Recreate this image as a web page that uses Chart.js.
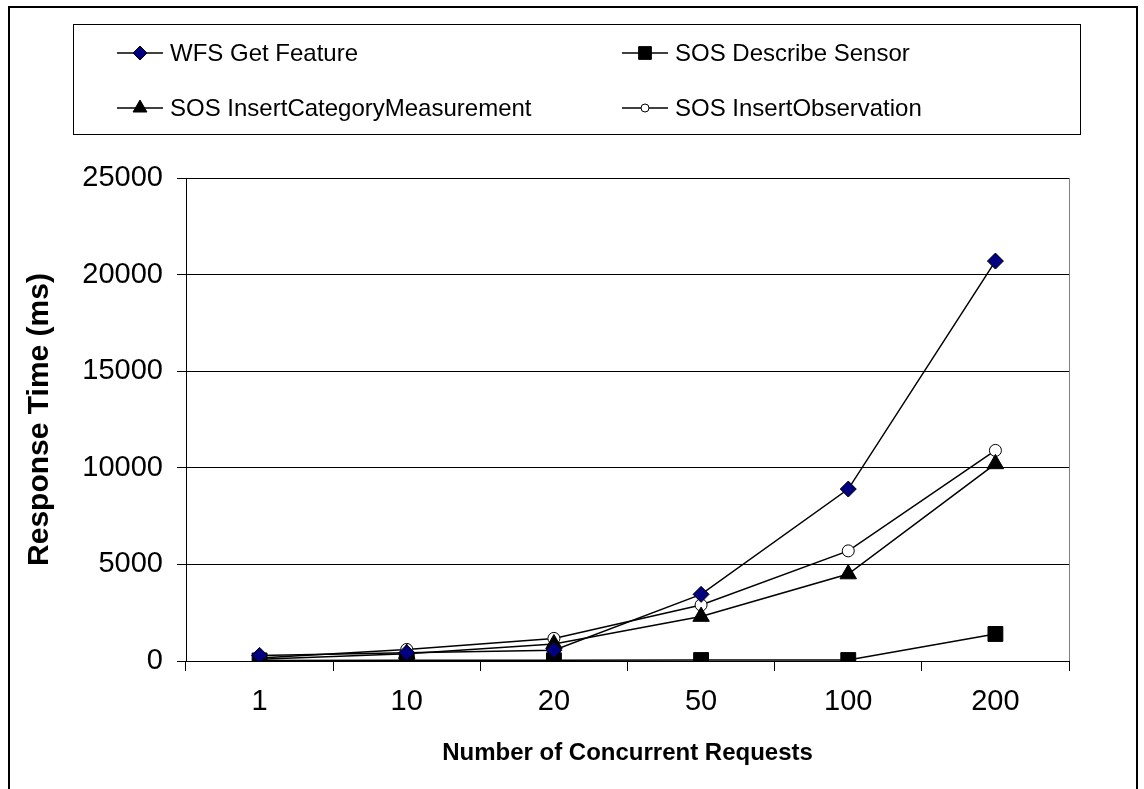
<!DOCTYPE html>
<html lang="en">
<head>
  <meta charset="UTF-8" />
  <title>Response Time vs Concurrent Requests</title>
  <script src="https://cdn.jsdelivr.net/npm/chart.js"></script>
  <style>
    html, body { margin: 0; padding: 0; background: #fff; }
    #wrap { width: 1144px; height: 789px; }
  </style>
</head>
<body>
  <div id="wrap"><canvas id="respChart" width="1144" height="789"></canvas></div>

  <script>
    // data
    const requestCounts = ['1', '10', '20', '50', '100', '200'];
    const wfsGetFeature = [290, 430, 560, 3450, 8900, 20700];
    const sosDescribeSensor = [30, 40, 40, 50, 50, 1400];
    const sosInsertCategory = [90, 380, 880, 2300, 4500, 10200];
    const sosInsertObservation = [150, 600, 1170, 2900, 5700, 10900];
    const yTicks = [0, 5000, 10000, 15000, 20000, 25000];

    const FONT = "'Liberation Sans', Arial, sans-serif";

    // outer frame + white background
    const framePlugin = {
      id: 'frame',
      beforeDraw(chart) {
        const ctx = chart.ctx;
        ctx.save();
        ctx.fillStyle = '#fff';
        ctx.fillRect(0, 0, chart.width, chart.height);
        ctx.strokeStyle = '#000';
        ctx.lineWidth = 2;
        ctx.strokeRect(9, 7, 1128, 800);
        ctx.restore();
      },
      beforeDatasetsDraw(chart) {
        // gray right edge of the plot area
        const a = chart.chartArea, ctx = chart.ctx;
        ctx.save();
        ctx.strokeStyle = '#808080';
        ctx.lineWidth = 1;
        ctx.beginPath();
        ctx.moveTo(a.right + 0.5, a.top);
        ctx.lineTo(a.right + 0.5, a.bottom);
        ctx.stroke();
        ctx.restore();
      }
    };

    // boxed two-column legend at the top
    const boxLegend = {
      id: 'boxLegend',
      afterDraw(chart) {
        const ctx = chart.ctx;
        const slots = [[117, 53], [622, 53], [117, 108], [622, 108]];
        ctx.save();
        ctx.strokeStyle = '#000';
        ctx.lineWidth = 1;
        ctx.strokeRect(73.5, 24.5, 1007, 110);
        chart.data.datasets.forEach((ds, i) => {
          const [x, y] = slots[i];
          ctx.strokeStyle = '#000';
          ctx.lineWidth = 1.5;
          ctx.beginPath();
          ctx.moveTo(x, y);
          ctx.lineTo(x + 46, y);
          ctx.stroke();
          ctx.fillStyle = ds.pointBackgroundColor;
          ctx.strokeStyle = '#000';
          ctx.lineWidth = 1;
          Chart.helpers.drawPoint(ctx, {
            pointStyle: ds.pointStyle,
            radius: ds.legendRadius,
            rotation: 0,
            borderWidth: 1
          }, x + 23, y);
          ctx.fillStyle = '#000';
          ctx.font = '24px ' + FONT;
          ctx.textBaseline = 'middle';
          ctx.textAlign = 'left';
          ctx.fillText(ds.label, x + 53, y + 1);
        });
        ctx.restore();
      }
    };

    const ctx = document.getElementById('respChart').getContext('2d');
    new Chart(ctx, {
      type: 'line',
      data: {
        labels: requestCounts,
        datasets: [
          {
            label: 'WFS Get Feature',
            data: wfsGetFeature,
            borderColor: '#000',
            borderWidth: 1.5,
            pointStyle: 'rectRot',
            pointRadius: 8,
            legendRadius: 7,
            pointBackgroundColor: '#000080',
            pointBorderColor: '#000',
            pointBorderWidth: 1
          },
          {
            label: 'SOS Describe Sensor',
            data: sosDescribeSensor,
            borderColor: '#000',
            borderWidth: 1.5,
            pointStyle: 'rect',
            pointRadius: 10.5,
            legendRadius: 9,
            pointBackgroundColor: '#000',
            pointBorderColor: '#000',
            pointBorderWidth: 1
          },
          {
            label: 'SOS InsertCategoryMeasurement',
            data: sosInsertCategory,
            borderColor: '#000',
            borderWidth: 1.5,
            pointStyle: 'triangle',
            pointRadius: 9.5,
            legendRadius: 8,
            pointBackgroundColor: '#000',
            pointBorderColor: '#000',
            pointBorderWidth: 1
          },
          {
            label: 'SOS InsertObservation',
            data: sosInsertObservation,
            borderColor: '#000',
            borderWidth: 1.5,
            pointStyle: 'circle',
            pointRadius: 6,
            legendRadius: 4,
            pointBackgroundColor: '#fff',
            pointBorderColor: '#000',
            pointBorderWidth: 1
          }
        ]
      },
      options: {
        responsive: false,
        animation: false,
        layout: { padding: { top: 178, right: 75, left: 0, bottom: 0 } },
        plugins: {
          legend: { display: false },
          tooltip: { enabled: false }
        },
        scales: {
          x: {
            offset: true,
            grid: {
              offset: true,
              drawOnChartArea: false,
              color: '#000',
              tickLength: 10
            },
            border: { color: '#000', width: 1 },
            ticks: {
              color: '#000',
              padding: 14,
              font: { family: FONT, size: 29 }
            },
            title: {
              display: true,
              text: 'Number of Concurrent Requests',
              color: '#000',
              padding: { top: 0, bottom: 21 },
              font: { family: FONT, size: 24, weight: 'bold' }
            },
            afterFit(scale) { scale.height = 128; }
          },
          y: {
            min: 0,
            max: 25000,
            afterBuildTicks(scale) { scale.ticks = yTicks.map(v => ({ value: v })); },
            grid: { color: '#000', lineWidth: 1, tickLength: 9 },
            border: { color: '#000', width: 1 },
            ticks: {
              color: '#000',
              padding: 14,
              font: { family: FONT, size: 29 },
              callback: v => String(v)
            },
            title: {
              display: true,
              text: 'Response Time (ms)',
              color: '#000',
              padding: { top: 22, bottom: 0 },
              font: { family: FONT, size: 30, weight: 'bold' }
            },
            afterFit(scale) { scale.width = 186; }
          }
        }
      },
      plugins: [framePlugin, boxLegend]
    });
  </script>
</body>
</html>
